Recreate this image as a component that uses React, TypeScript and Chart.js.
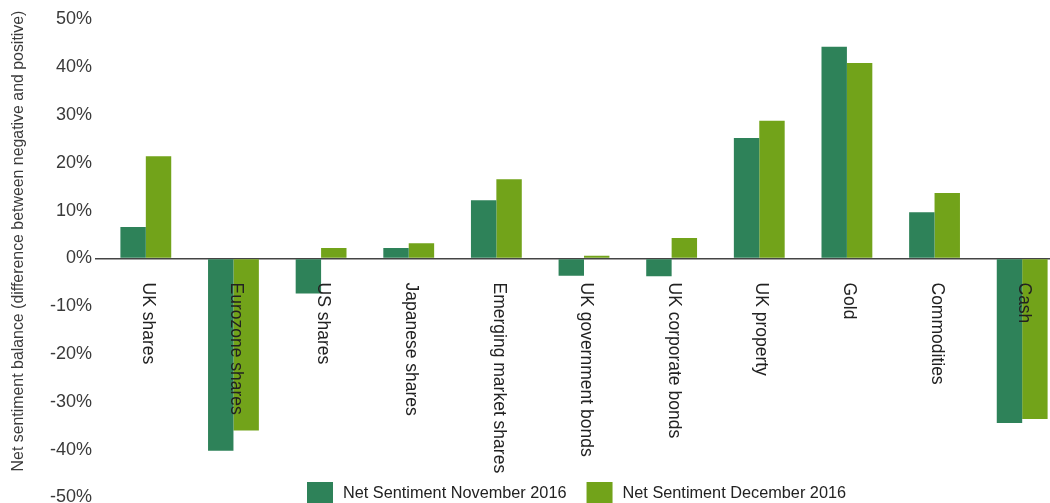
import React, { useEffect, useRef } from "react";
import { Chart, registerables } from "chart.js";

Chart.register(...registerables);

const categories = [
  "UK shares",
  "Eurozone shares",
  "US shares",
  "Japanese shares",
  "Emerging market shares",
  "UK government bonds",
  "UK corporate bonds",
  "UK property",
  "Gold",
  "Commodities",
  "Cash",
];
const seriesNames = ["Net Sentiment November 2016", "Net Sentiment December 2016"];
const novValues = [6.6, -40.2, -7.3, 2.2, 12.2, -3.6, -3.7, 25.2, 44.3, 9.7, -34.4];
const decValues = [21.4, -36.0, 2.2, 3.2, 16.6, 0.6, 4.3, 28.8, 40.9, 13.7, -33.6];
const yTickValues = [50, 40, 30, 20, 10, 0, -10, -20, -30, -40, -50];
const yTitle = "Net sentiment balance (difference between negative and positive)";

const NOV_COLOR = "#2e8259";
const DEC_COLOR = "#72a31a";
const TEXT_COLOR = "#3a3a3a";
const FONT = '"Liberation Sans", Arial, Helvetica, sans-serif';

const overlayPlugin = {
  id: "overlay",
  afterDatasetsDraw(chart: any) {
    const ctx = chart.ctx;
    const xs = chart.scales.x;
    const ys = chart.scales.y;
    const y0 = ys.getPixelForValue(0);
    ctx.save();
    // category labels, rotated clockwise, just below the zero line
    ctx.fillStyle = "#222";
    ctx.font = `17.5px ${FONT}`;
    ctx.textAlign = "left";
    ctx.textBaseline = "middle";
    chart.data.labels.forEach((lab: string, i: number) => {
      const x = xs.getPixelForValue(i);
      ctx.save();
      ctx.translate(x + 2, y0 + 24);
      ctx.rotate(Math.PI / 2);
      ctx.fillText(lab, 0, 0);
      ctx.restore();
    });
    // y axis title
    ctx.fillStyle = TEXT_COLOR;
    ctx.font = `15.9px ${FONT}`;
    ctx.textAlign = "center";
    ctx.save();
    ctx.translate(19, 241);
    ctx.rotate(-Math.PI / 2);
    ctx.fillText(yTitle, 0, 0);
    ctx.restore();
    // legend
    ctx.font = `16.3px ${FONT}`;
    ctx.textAlign = "left";
    let lx = 307;
    const boxTop = 482;
    const box = 26;
    chart.data.datasets.forEach((ds: any) => {
      ctx.fillStyle = "#ffffff";
      ctx.fillRect(lx - 2, boxTop - 2, box + 4, box + 4);
      ctx.fillStyle = ds.backgroundColor;
      ctx.fillRect(lx, boxTop, box, box);
      ctx.fillStyle = "#222";
      const tx = lx + box + 10;
      ctx.fillText(ds.label, tx, 493.5);
      lx = tx + ctx.measureText(ds.label).width + 20;
    });
    ctx.restore();
  },
};

export default function App() {
  const ref = useRef<HTMLCanvasElement | null>(null);
  useEffect(() => {
    if (!ref.current) return;
    const chart = new Chart(ref.current, {
      type: "bar",
      data: {
        labels: categories,
        datasets: [
          {
            label: seriesNames[0],
            data: novValues,
            backgroundColor: NOV_COLOR,
            categoryPercentage: 0.58,
            barPercentage: 1.0,
          },
          {
            label: seriesNames[1],
            data: decValues,
            backgroundColor: DEC_COLOR,
            categoryPercentage: 0.58,
            barPercentage: 1.0,
          },
        ],
      },
      options: {
        animation: false,
        responsive: true,
        maintainAspectRatio: false,
        layout: { padding: { left: 0, right: 14, top: 19.5, bottom: 22.5 } },
        plugins: {
          legend: { display: false },
          tooltip: { enabled: false },
        },
        scales: {
          x: { display: false },
          y: {
            min: -50,
            max: 50,
            afterBuildTicks(scale: any) {
              scale.ticks = yTickValues.map((v) => ({ value: v }));
            },
            afterFit(scale: any) {
              scale.width = 102;
            },
            border: { display: false },
            grid: {
              color: (c: any) => (c.tick && c.tick.value === 0 ? "#444444" : "rgba(0,0,0,0)"),
              lineWidth: 1.5,
              drawTicks: true,
              tickLength: 7,
            },
            ticks: {
              padding: 3,
              color: TEXT_COLOR,
              font: { family: FONT, size: 18 },
              callback: (v: any) => `${v}%`,
            },
          },
        },
      },
      plugins: [overlayPlugin],
    });
    return () => chart.destroy();
  }, []);
  return (
    <div
      style={{
        position: "fixed",
        left: 0,
        top: 0,
        width: 1050,
        height: 503,
        overflow: "hidden",
        background: "#fff",
      }}
    >
      <div style={{ position: "relative", width: 1080, height: 520 }}>
        <canvas ref={ref} />
      </div>
    </div>
  );
}
